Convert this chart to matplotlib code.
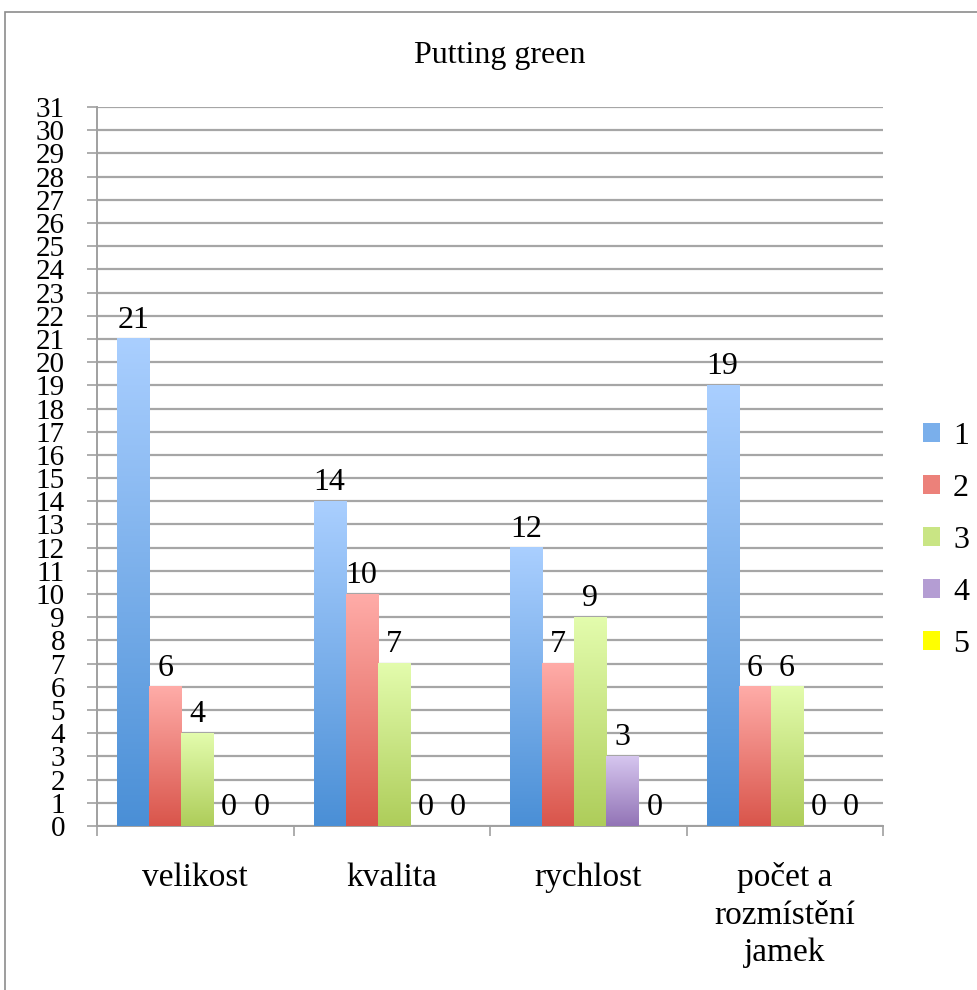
import numpy as np
import matplotlib.pyplot as plt
from matplotlib.colors import LinearSegmentedColormap, to_rgb
from matplotlib.patches import Rectangle, Patch

# Data
categories = ["velikost", "kvalita", "rychlost", "počet a\nrozmístění\njamek"]
series_names = ["1", "2", "3", "4", "5"]
values = [
    [21, 14, 12, 19],
    [6, 10, 7, 6],
    [4, 7, 9, 6],
    [0, 0, 3, 0],
    [0, 0, 0, 0],
]
title = "Putting green"

# gradient top -> bottom for each series
grad_colors = [
    ("#aacfff", "#4a8fd6"),
    ("#ffaca8", "#d9554b"),
    ("#e3fcad", "#aecd5a"),
    ("#d6c6ef", "#9274b6"),
    ("#ffff00", "#ffff00"),
]

plt.rcParams['font.family'] = ['Liberation Serif', 'DejaVu Serif']

fig = plt.figure(figsize=(9.77, 9.90), dpi=100)
ax = fig.add_axes([97 / 977, 1 - 826 / 990, 786 / 977, 719 / 990])

n_cat = len(categories)
n_ser = len(series_names)
x = np.arange(n_cat)
bw = 0.163
offsets = (np.arange(n_ser) - (n_ser - 1) / 2) * bw + 0.01

ax.set_xlim(-0.5, n_cat - 0.5)
ax.set_ylim(0, 31)

grad = np.linspace(0, 1, 256).reshape(-1, 1)
for i in range(n_ser):
    cmap = LinearSegmentedColormap.from_list("g%d" % i, [grad_colors[i][1], grad_colors[i][0]])
    bars = ax.bar(x + offsets[i], values[i], width=bw, color=grad_colors[i][1],
                  zorder=2, linewidth=0)
    for b, v in zip(bars, values[i]):
        if v > 0:
            x0 = b.get_x()
            ax.imshow(grad, cmap=cmap, origin="lower", aspect="auto",
                      extent=[x0, x0 + bw, 0, v], zorder=3, interpolation="bicubic")
        ax.annotate(str(v), (b.get_x() + bw / 2, v), xytext=(0, 3),
                    textcoords="offset points", ha="center", va="bottom",
                    fontsize=23, zorder=4)

ax.set_xlim(-0.5, n_cat - 0.5)
ax.set_ylim(0, 31)

ax.set_yticks(range(0, 32))
ax.tick_params(axis="y", labelsize=21, length=7, color="#a0a0a0", width=1.2, pad=16)
ax.yaxis.grid(True, color="#a6a6a6", linewidth=1.6, zorder=0)
ax.set_axisbelow(True)

ax.set_xticks(np.arange(n_cat + 1) - 0.5, minor=False)
ax.set_xticklabels([])
ax.set_xticks(x, minor=True)
ax.set_xticklabels(categories, minor=True, fontsize=24, linespacing=1.3, va="top")
ax.tick_params(axis="x", which="major", length=7, color="#a0a0a0", width=1.2)
ax.tick_params(axis="x", which="minor", length=0, pad=26)

for s in ["top", "right"]:
    ax.spines[s].set_visible(False)
for s in ["left", "bottom"]:
    ax.spines[s].set_color("#a0a0a0")
    ax.spines[s].set_linewidth(1.4)

fig.text(500 / 977, 1 - 55 / 990, title, ha="center", va="center", fontsize=23)

handles = []
for i in range(n_ser):
    mid = 0.5 * (np.array(to_rgb(grad_colors[i][0])) + np.array(to_rgb(grad_colors[i][1])))
    handles.append(Patch(facecolor=tuple(mid), edgecolor="none"))
fig.legend(handles, series_names, loc="center left", bbox_to_anchor=(910 / 977, 1 - 540 / 990),
           frameon=False, fontsize=23, handlelength=0.55, handleheight=0.55,
           handletextpad=0.4, labelspacing=0.72, borderaxespad=0)

# outer chart border (cropped on right and bottom)
fig.patches.append(Rectangle((5 / 977, -0.05), 1.1, 1 - 12 / 990 + 0.05,
                             transform=fig.transFigure, fill=False,
                             edgecolor="#8c8c8c", linewidth=1.2))

fig.savefig("out.png", dpi=100)
